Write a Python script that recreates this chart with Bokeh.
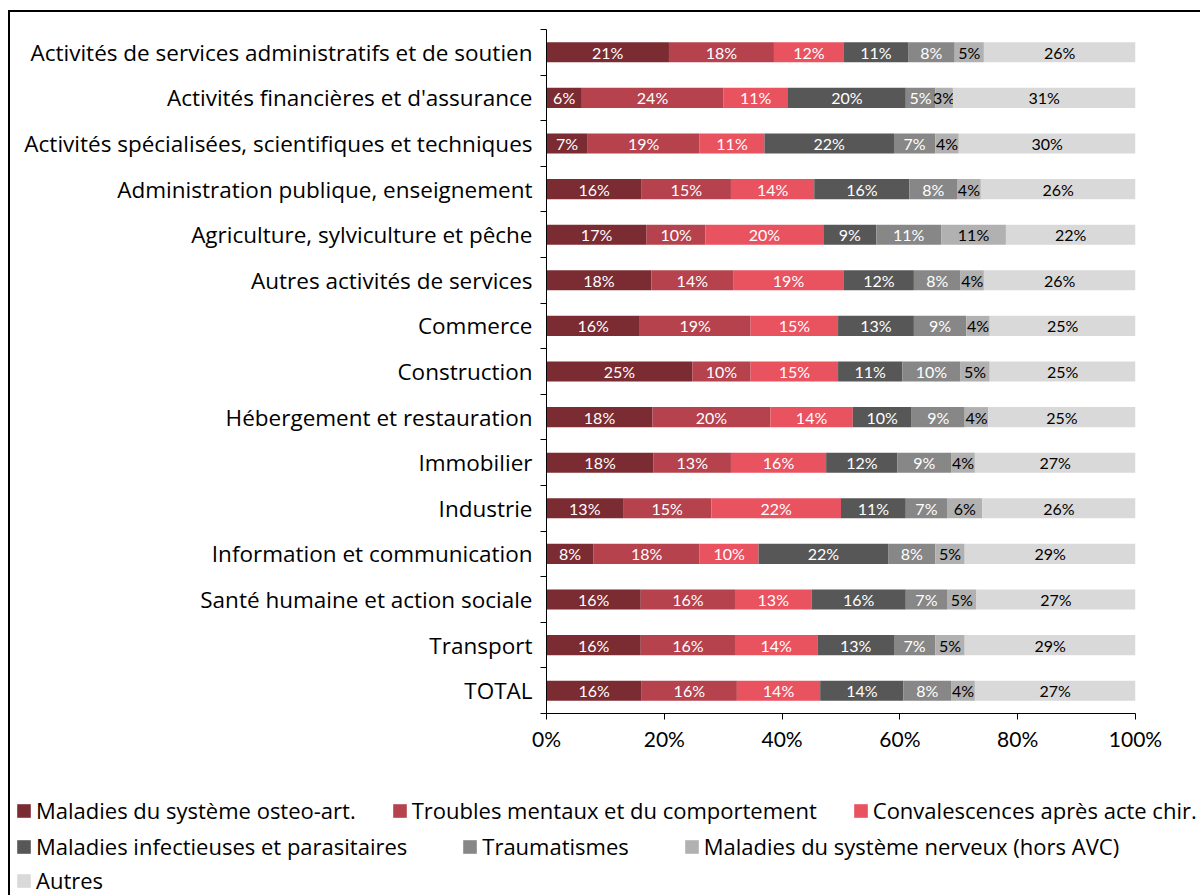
from bokeh.plotting import figure
from bokeh.layouts import column
from bokeh.models import (ColumnDataSource, FixedTicker, NumeralTickFormatter, Legend,
                          LegendItem, Range1d)
from bokeh.core.properties import value
from bokeh.embed import file_html
from bokeh.resources import INLINE

categories = [
    "Activités de services administratifs et de soutien",
    "Activités financières et d'assurance",
    "Activités spécialisées, scientifiques et techniques",
    "Administration publique, enseignement",
    "Agriculture, sylviculture et pêche",
    "Autres activités de services",
    "Commerce",
    "Construction",
    "Hébergement et restauration",
    "Immobilier",
    "Industrie",
    "Information et communication",
    "Santé humaine et action sociale",
    "Transport",
    "TOTAL",
]

series = [
    "Maladies du système osteo-art.",
    "Troubles mentaux et du comportement",
    "Convalescences après acte chir.",
    "Maladies infectieuses et parasitaires",
    "Traumatismes",
    "Maladies du système nerveux (hors AVC)",
    "Autres",
]

osteo = [21, 6, 7, 16, 17, 18, 16, 25, 18, 18, 13, 8, 16, 16, 16]
mentaux = [18, 24, 19, 15, 10, 14, 19, 10, 20, 13, 15, 18, 16, 16, 16]
convalescences = [12, 11, 11, 14, 20, 19, 15, 15, 14, 16, 22, 10, 13, 14, 14]
infectieuses = [11, 20, 22, 16, 9, 12, 13, 11, 10, 12, 11, 22, 16, 13, 14]
traumatismes = [8, 5, 7, 8, 11, 8, 9, 10, 9, 9, 7, 8, 7, 7, 8]
nerveux = [5, 3, 4, 4, 11, 4, 4, 5, 4, 4, 6, 5, 5, 5, 4]
autres = [26, 31, 30, 26, 22, 26, 25, 25, 25, 27, 26, 29, 27, 29, 27]

x_ticks = [0, 0.2, 0.4, 0.6, 0.8, 1.0]

colors = ["#7B2B32", "#B5424D", "#E9525F", "#575757", "#878787", "#B1B1B1", "#D9D9D9"]
label_colors = ["white", "white", "white", "white", "white", "black", "black"]

values = [osteo, mentaux, convalescences, infectieuses, traumatismes, nerveux, autres]
n = len(categories)
ys = [n - 1 - i for i in range(n)]
totals = [sum(v[i] for v in values) for i in range(n)]

LBL_FONT = "Open Sans"
NUM_FONT = "Lato"
W = 1190
OX, OY = 10, 12          # page position of the canvas (margin + frame line)
H1 = 760 - OY            # chart part
H2 = 895 - 760           # legend part


def no_align(fig):
    if "frame_align" in fig.properties():
        fig.frame_align = False


p = figure(width=W, height=H1, output_backend="svg", toolbar_location=None,
           x_range=Range1d(0, 1), y_range=Range1d(-0.5, n - 0.5),
           min_border_left=546 - OX, min_border_right=W - (1135 - OX),
           min_border_top=29 - OY, min_border_bottom=760 - 713)
no_align(p)
p.xgrid.visible = False
p.ygrid.visible = False
p.outline_line_color = None
p.border_fill_color = "white"

sources = []
renderers = []
cum = [0.0] * n
for k, vals in enumerate(values):
    left = [cum[i] / totals[i] for i in range(n)]
    right = [(cum[i] + vals[i]) / totals[i] for i in range(n)]
    mid = [(a + b) / 2 for a, b in zip(left, right)]
    src = ColumnDataSource(dict(y=ys, left=left, right=right, mid=mid,
                                txt=[f"{v}%" for v in vals]))
    sources.append(src)
    r = p.hbar(y="y", left="left", right="right", height=0.44, source=src,
               fill_color=colors[k], line_color=None)
    renderers.append(r)
    p.text(x="mid", y="y", text="txt", source=src, text_align="center",
           text_baseline="middle", text_font=value(NUM_FONT), text_font_size="16px",
           text_color=label_colors[k])
    cum = [cum[i] + vals[i] for i in range(n)]

# x axis
p.xaxis.ticker = FixedTicker(ticks=x_ticks)
p.xaxis.formatter = NumeralTickFormatter(format="0%")
p.xaxis.major_tick_out = 6
p.xaxis.major_tick_in = 0
p.xaxis.minor_tick_out = 0
p.xaxis.axis_line_color = "black"
p.xaxis.major_tick_line_color = "black"
p.xaxis.major_label_text_font = NUM_FONT
p.xaxis.major_label_text_font_size = "21px"
p.xaxis.major_label_text_color = "black"
p.xaxis.major_label_standoff = 6

# y axis: labels at the bars, ticks between categories
p.yaxis.ticker = FixedTicker(ticks=ys, minor_ticks=[y - 0.5 for y in ys] + [n - 0.5])
p.yaxis.major_label_overrides = {y: c for y, c in zip(ys, categories)}
p.yaxis.major_tick_out = 0
p.yaxis.major_tick_in = 0
p.yaxis.minor_tick_out = 6
p.yaxis.minor_tick_in = 0
p.yaxis.minor_tick_line_color = "black"
p.yaxis.axis_line_color = "black"
p.yaxis.major_label_text_font = LBL_FONT
p.yaxis.major_label_text_font_size = "22.5px"
p.yaxis.major_label_text_color = "black"
p.yaxis.major_label_standoff = 8

# legend panel (its own frame fills the whole canvas)
lf = figure(width=W, height=H2, output_backend="svg", toolbar_location=None,
            x_range=Range1d(0, 1), y_range=Range1d(1000, 1001),
            x_axis_location=None, y_axis_location=None,
            min_border=0, min_border_left=0, min_border_right=0,
            min_border_top=0, min_border_bottom=0)
no_align(lf)
lf.xgrid.visible = False
lf.ygrid.visible = False
lf.outline_line_color = None
lf.border_fill_color = "white"

leg_r = []
for k in range(len(series)):
    leg_r.append(lf.hbar(y="y", left="left", right="right", height=0.44, source=sources[k],
                         fill_color=colors[k], line_color=None))

rows = [[0, 1, 2], [3, 4, 5], [6]]
row_loc = [(5, 70), (5, 34), (5, 0)]
row_spacing = [35, 54, 0]
for idx, members in enumerate(rows):
    lg = Legend(items=[LegendItem(label=series[k], renderers=[leg_r[k]]) for k in members],
                location=row_loc[idx], orientation="horizontal",
                padding=0, margin=0, spacing=row_spacing[idx],
                glyph_width=17, glyph_height=17, label_standoff=4,
                label_text_font=LBL_FONT, label_text_font_size="22px",
                label_text_color="black",
                border_line_color=None, background_fill_alpha=0)
    lf.add_layout(lg, "center")

layout = column(p, lf, spacing=0)
layout.margin = (10, 0, 0, 8)
layout.styles = {"border-top": "2px solid black", "border-left": "2px solid black"}

open("out.html", "w").write(file_html(layout, INLINE))
